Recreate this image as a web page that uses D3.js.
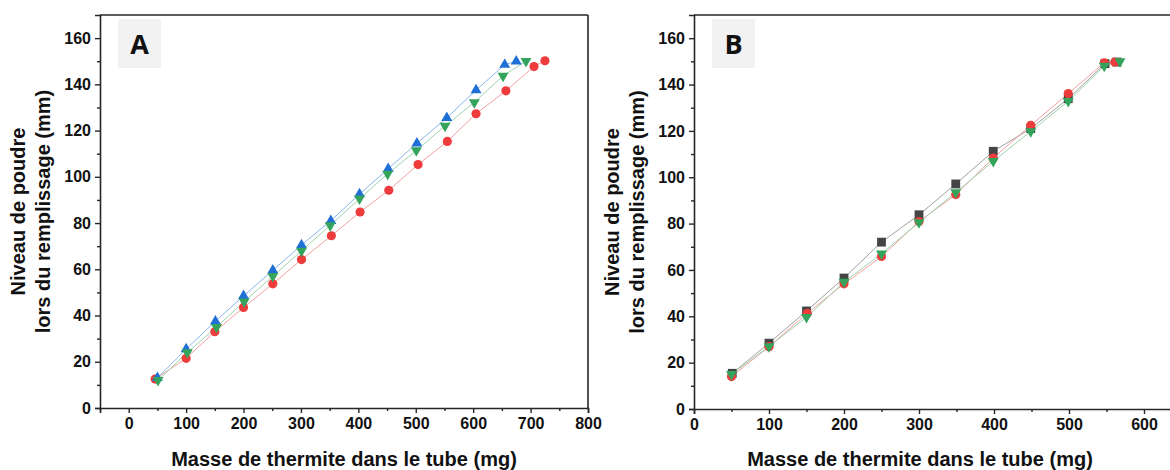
<!DOCTYPE html>
<html><head><meta charset="utf-8">
<script src="https://cdn.jsdelivr.net/npm/d3@7"></script>
<style>body{margin:0;background:#fff}svg{display:block}</style>
</head><body>
<svg id="c" width="1170" height="470"></svg>
<script>
// Panel A data
const aBlueX  = [50,100,151,200,251,301,352,402,452,502,554,605,655,675];
const aBlueY  = [13,25.5,37.5,48.5,59.5,70.5,81,92.5,103.5,114.5,125.5,137.5,148.5,150];
const aGreenX = [51,102,153,201,251,301,351,402,451,501,551,602,652,692];
const aGreenY = [12,24,35,46,57,68,79,90.5,101.3,111.4,122,132.2,143.7,150];
const aRedX   = [46,100,150,200,251,301,353,403,453,504,555,605,657,706,725];
const aRedY   = [12.5,21.5,33,43.5,53.7,64.2,74.5,84.8,94.2,105.3,115.3,127.3,137.2,147.7,150.2];
// Panel B data
const bGrayX  = [51,100,150,200,250,300,349,399,449,499,548,564];
const bGrayY  = [15.4,28.4,42.3,56.5,72,83.8,97.1,111.2,121,133.9,149,149.7];
const bRedX   = [50,100,151,200,250,300,349,399,449,499,547,561];
const bRedY   = [14,26.9,41.3,54,65.8,80.9,92.5,108.3,122.4,136.1,149.4,149.7];
const bGreenX = [50,100,150,200,250,300,349,399,449,499,547,568];
const bGreenY = [15,27,39.6,54.8,67,80.5,93.5,106.9,119.8,132.8,148,150];
// Tick values and labels
const aXTicks = [0,100,200,300,400,500,600,700,800];
const bXTicks = [0,100,200,300,400,500,600];
const yTicks  = [0,20,40,60,80,100,120,140,160];
const xTitle = "Masse de thermite dans le tube (mg)";
const yTitle1 = "Niveau de poudre";
const yTitle2 = "lors du remplissage (mm)";

const svg = d3.select("#c");
const FONT = "'Liberation Sans', Arial, sans-serif";
const pts = (xs, ys) => xs.map((x, i) => [x, ys[i]]);

function panel(cfg) {
  const {x, y, left, right, top, bottom, xTicks, xMinor, series, letter, fullBox, titleX} = cfg;
  const g = svg.append("g");
  const line = d3.line().x(d => x(d[0])).y(d => y(d[1]));
  series.forEach(s => {
    g.append("path").attr("d", line(s.data)).attr("fill", "none")
      .attr("stroke", s.lineColor).attr("stroke-width", 1);
  });
  series.forEach(s => {
    const sym = d3.symbol().type(s.symbol).size(s.size);
    g.selectAll(null).data(s.data).enter().append("path")
      .attr("d", sym)
      .attr("transform", d => `translate(${x(d[0])},${y(d[1])})${s.rotate ? " rotate(180)" : ""}`)
      .attr("fill", s.color);
  });
  const fc = "#262626", fw = 1.6;
  g.append("line").attr("x1", left).attr("x2", right).attr("y1", top).attr("y2", top).attr("stroke", fc).attr("stroke-width", fw);
  if (fullBox) g.append("line").attr("x1", right).attr("x2", right).attr("y1", top).attr("y2", bottom).attr("stroke", fc).attr("stroke-width", fw);
  const xa = g.append("g").attr("transform", `translate(0,${bottom})`)
    .call(d3.axisBottom(x).tickValues(xTicks).tickSize(5).tickPadding(5).tickFormat(d3.format("d")));
  const xm = g.append("g").attr("transform", `translate(0,${bottom})`)
    .call(d3.axisBottom(x).tickValues(xMinor).tickSize(3).tickFormat(""));
  const ya = g.append("g").attr("transform", `translate(${left},0)`)
    .call(d3.axisLeft(y).tickValues(yTicks).tickSize(5).tickPadding(4).tickFormat(d3.format("d")));
  const ym = g.append("g").attr("transform", `translate(${left},0)`)
    .call(d3.axisLeft(y).tickValues(d3.range(10, 170, 20)).tickSize(3).tickFormat(""));
  [xa, xm, ya, ym].forEach(a => {
    a.select(".domain").attr("stroke", fc).attr("stroke-width", fw);
    a.selectAll(".tick line").attr("stroke", fc).attr("stroke-width", 1.4);
    a.selectAll("text").attr("font-family", FONT).attr("font-weight", "bold")
      .attr("font-size", 16).attr("fill", "#111");
  });
  xm.select(".domain").remove(); ym.select(".domain").remove();
  g.append("rect").attr("x", left + 18).attr("y", 19).attr("width", 43).attr("height", 49).attr("fill", "#f2f2f2");
  g.append("text").attr("x", left + 39.5).attr("y", 54).attr("text-anchor", "middle")
    .attr("font-family", "'Open Sans', sans-serif").attr("font-weight", "bold").attr("font-size", 27)
    .attr("fill", "#111").text(letter);
  g.append("text").attr("x", titleX).attr("y", 466).attr("text-anchor", "middle")
    .attr("font-family", FONT).attr("font-weight", "bold").attr("font-size", 20).attr("fill", "#111").text(xTitle);
  const cy = (top + bottom) / 2;
  [[yTitle1, left - 75], [yTitle2, left - 50]].forEach(([t, bx]) => {
    g.append("text").attr("transform", `translate(${bx},${cy}) rotate(-90)`).attr("text-anchor", "middle")
      .attr("font-family", FONT).attr("font-weight", "bold").attr("font-size", 20).attr("fill", "#111").text(t);
  });
}

const xA = d3.scaleLinear([-50, 800], [100, 588]);
const yA = d3.scaleLinear([0, 170], [408, 15]);
panel({
  x: xA, y: yA, left: 100, right: 588, top: 15, bottom: 408,
  xTicks: aXTicks, xMinor: d3.range(-50, 800, 100), letter: "A", fullBox: true, titleX: 344,
  series: [
    {data: pts(aRedX, aRedY), color: "#ee3b3b", lineColor: "#f4a0a0", symbol: d3.symbolCircle, size: 66},
    {data: pts(aBlueX, aBlueY), color: "#1f6fd6", lineColor: "#8ab6ee", symbol: d3.symbolTriangle, size: 52},
    {data: pts(aGreenX, aGreenY), color: "#34a35c", lineColor: "#9dd4ae", symbol: d3.symbolTriangle, size: 52, rotate: true}
  ]
});

const xB = d3.scaleLinear([0, 650], [694, 1181.5]);
const yB = d3.scaleLinear([0, 170], [409, 15]);
panel({
  x: xB, y: yB, left: 694, right: 1181.5, top: 15, bottom: 409,
  xTicks: bXTicks, xMinor: d3.range(50, 650, 100), letter: "B", fullBox: false, titleX: 920,
  series: [
    {data: pts(bGrayX, bGrayY), color: "#454545", lineColor: "#a0a0a0", symbol: d3.symbolSquare, size: 78},
    {data: pts(bRedX, bRedY), color: "#ee3b3b", lineColor: "#f4a0a0", symbol: d3.symbolCircle, size: 66},
    {data: pts(bGreenX, bGreenY), color: "#34a35c", lineColor: "#9dd4ae", symbol: d3.symbolTriangle, size: 52, rotate: true}
  ]
});
</script>
</body></html>
